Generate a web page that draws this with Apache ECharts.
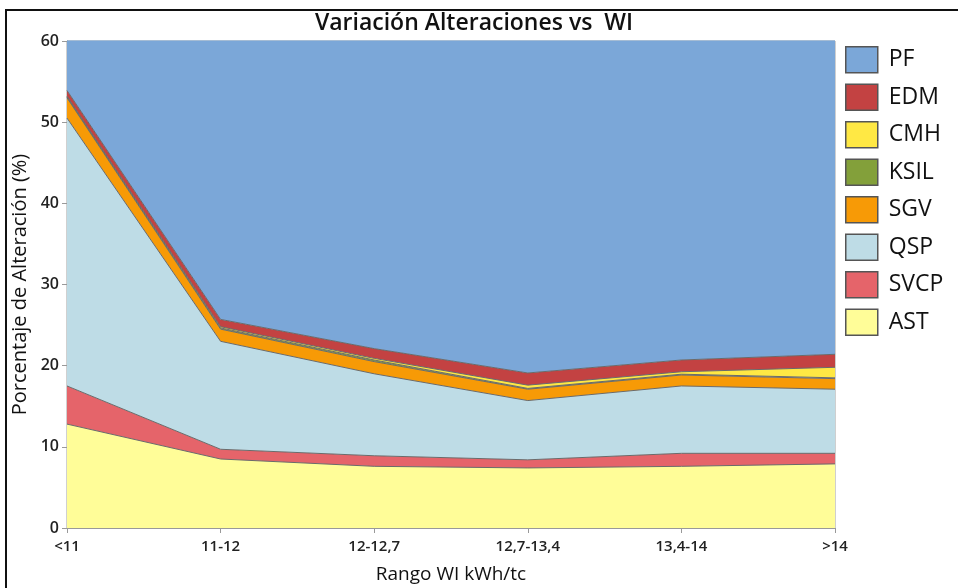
<!DOCTYPE html>
<html>
<head>
<meta charset="utf-8">
<title>Variación Alteraciones vs WI</title>
<script src="https://cdn.jsdelivr.net/npm/echarts@6/dist/echarts.min.js"></script>
<style>
  html, body { margin: 0; padding: 0; background: #fff; }
  #chart { width: 958px; height: 588px; }
</style>
</head>
<body>
<div id="chart"></div>
<script>
const categories = ['<11', '11-12', '12-12,7', '12,7-13,4', '13,4-14', '>14']
const yTicks = [0, 10, 20, 30, 40, 50, 60]

// stacked from the bottom up
const AST = [12.8, 8.5, 7.6, 7.4, 7.6, 7.9]
const SVCP = [4.7, 1.2, 1.3, 1.0, 1.6, 1.3]
const QSP = [33.0, 13.3, 10.1, 7.3, 8.3, 7.9]
const SGV = [2.5, 1.5, 1.5, 1.4, 1.35, 1.3]
const KSIL = [0.1, 0.15, 0.2, 0.1, 0.1, 0.1]
const CMH = [0.1, 0.15, 0.2, 0.4, 0.3, 1.3]
const EDM = [0.7, 0.9, 1.2, 1.5, 1.45, 1.6]
const PF = [46.1, 74.3, 77.9, 80.9, 79.3, 78.6]

const font = "'Open Sans', 'Noto Sans', sans-serif"

const layers = [
  { name: 'AST', data: AST, color: '#fffd98' },
  { name: 'SVCP', data: SVCP, color: '#e5646a' },
  { name: 'QSP', data: QSP, color: '#bedce6' },
  { name: 'SGV', data: SGV, color: '#f79a06' },
  { name: 'KSIL', data: KSIL, color: '#83a03a' },
  { name: 'CMH', data: CMH, color: '#ffe844' },
  { name: 'EDM', data: EDM, color: '#c34242' },
  { name: 'PF', data: PF, color: '#7ba7d8' }
]

const chart = echarts.init(document.getElementById('chart'))
chart.setOption({
  animation: false,
  title: {
    text: 'Variación Alteraciones vs  WI',
    left: 469,
    textAlign: 'center',
    top: 7,
    textStyle: { fontFamily: font, fontSize: 23, fontWeight: 600, color: '#111' }
  },
  graphic: [{
    type: 'rect',
    shape: { x: 6, y: 10, width: 1000, height: 700 },
    style: { fill: 'none', stroke: '#111', lineWidth: 2 },
    silent: true
  }],
  legend: {
    orient: 'vertical',
    left: 840,
    top: 41,
    icon: 'rect',
    itemWidth: 32,
    itemHeight: 26,
    itemGap: 10,
    itemStyle: { borderColor: '#555', borderWidth: 1.5 },
    textStyle: { fontFamily: font, fontSize: 23, fontWeight: 500, color: '#111', padding: [0, 0, 0, 6] },
    data: ['PF', 'EDM', 'CMH', 'KSIL', 'SGV', 'QSP', 'SVCP', 'AST']
  },
  grid: {
    left: 67,
    right: 123,
    top: 41,
    bottom: 60,
    outerBoundsMode: 'none',
    show: true,
    borderColor: '#a0a0a0',
    borderWidth: 1
  },
  xAxis: {
    type: 'category',
    boundaryGap: false,
    data: categories,
    name: 'Rango WI kWh/tc',
    nameLocation: 'middle',
    nameGap: 37,
    nameTextStyle: { fontFamily: font, fontSize: 19, color: '#111' },
    axisLine: { lineStyle: { color: '#999' } },
    axisTick: { length: 5, lineStyle: { color: '#999' } },
    axisLabel: { fontFamily: font, fontSize: 15, fontWeight: 600, color: '#222', margin: 11 }
  },
  yAxis: {
    type: 'value',
    min: yTicks[0],
    max: yTicks[yTicks.length - 1],
    interval: 10,
    name: 'Porcentaje de Alteración (%)',
    nameLocation: 'middle',
    nameGap: 34,
    nameTextStyle: { fontFamily: font, fontSize: 20, color: '#111' },
    axisLine: { show: true, lineStyle: { color: '#999' } },
    axisTick: { show: true, length: 5, lineStyle: { color: '#999' } },
    splitLine: { show: false },
    axisLabel: { fontFamily: font, fontSize: 16, fontWeight: 600, color: '#222', margin: 8 }
  },
  series: layers.map((l) => ({
    name: l.name,
    type: 'line',
    stack: 'total',
    data: l.data,
    showSymbol: false,
    color: l.color,
    itemStyle: { color: l.color },
    lineStyle: { color: '#6a6a6a', width: 1 },
    areaStyle: { color: l.color, opacity: 1 }
  }))
})
</script>
</body>
</html>
